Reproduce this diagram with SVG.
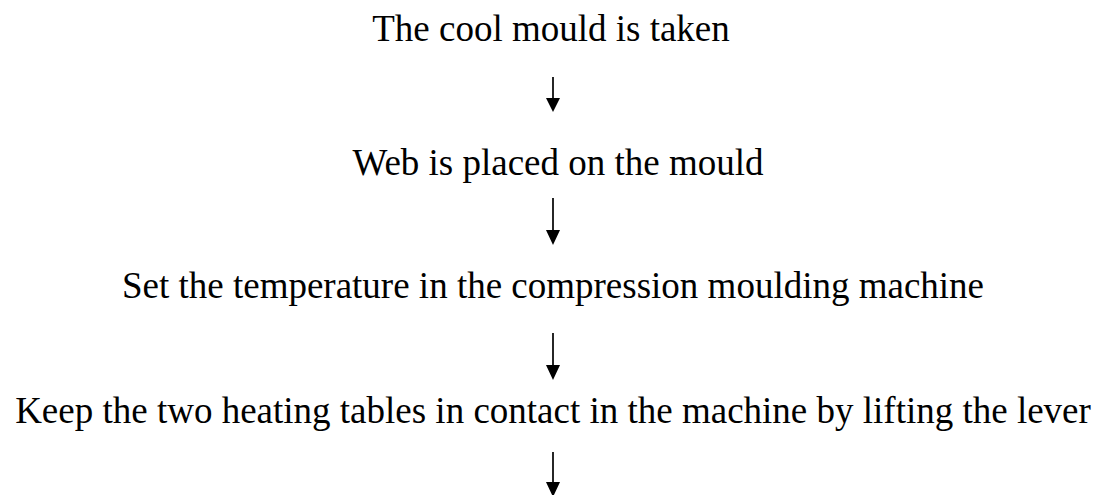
<svg xmlns="http://www.w3.org/2000/svg" width="1108" height="495" viewBox="0 0 1108 495">
<style>
.t{font-family:"Liberation Serif","Times New Roman",serif;font-size:37px;fill:#000;text-anchor:middle}
.c line{stroke:#000;stroke-width:1.7}
.c polygon{fill:#000}
</style>
<rect width="1108" height="495" fill="#fff"/>
<g id="n1"><text class="t" x="551" y="41">The cool mould is taken</text></g>
<g id="n2"><text class="t" x="558" y="175">Web is placed on the mould</text></g>
<g id="n3"><text class="t" x="553" y="298">Set the temperature in the compression moulding machine</text></g>
<g id="n4"><text class="t" x="553" y="423">Keep the two heating tables in contact in the machine by lifting the lever</text></g>
<g class="c" id="connectors">
<line x1="553" y1="77" x2="553" y2="100"/><polygon points="546,98 560,98 553,112"/>
<line x1="553" y1="198" x2="553" y2="232"/><polygon points="546,230 560,230 553,245"/>
<line x1="553" y1="333" x2="553" y2="367"/><polygon points="546,365 560,365 553,380"/>
<line x1="553" y1="452" x2="553" y2="484"/><polygon points="546,482 560,482 553,497"/>
</g>
</svg>
